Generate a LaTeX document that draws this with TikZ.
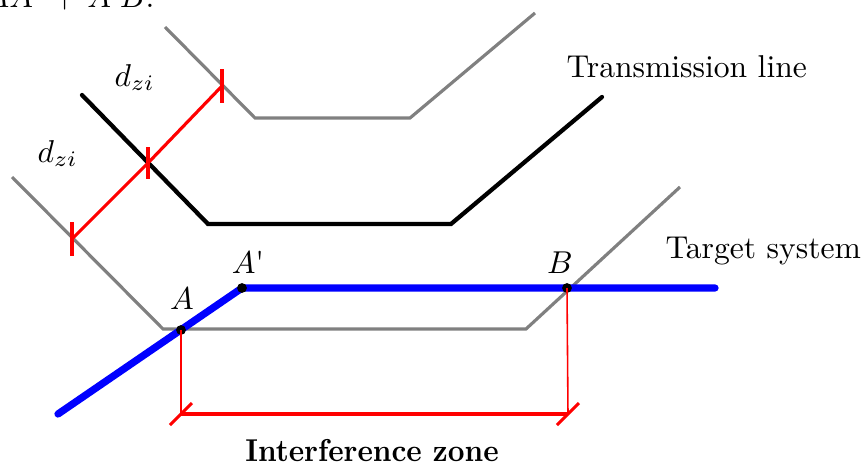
\documentclass[tikz,border=0pt]{standalone}
\usepackage{graphicx}
\begin{document}
\begin{tikzpicture}[x=0.3164pt,y=-0.3164pt,
  grayline/.style={draw=gray,line width=1pt},
  tline/.style={draw=black,line width=1.35pt,line cap=round},
  target/.style={draw=blue,line width=2.3pt,line cap=round},
  dimline/.style={draw=red,line width=1pt},
  thinred/.style={draw=red,line width=0.5pt},
  tick/.style={draw=red,line width=1pt},
  dot/.style={circle,fill=black,inner sep=0pt,minimum size=3.1pt},
  lbl/.style={anchor=base,inner sep=0pt}]
\useasboundingbox (0,0) rectangle (865,465);
% cut-off text at the top
\node[anchor=base west,inner sep=0pt] (eq) at (-15,7) {$AA$\textquotesingle\ + $A$\textquotesingle$B$.};
% upper gray offset line
\draw[grayline] (165,27) -- (255,118) -- (410,118) -- (535,13);
% transmission line
\draw[tline] (82,95) -- (208,224) -- (451,224) -- (602,97);
% lower gray offset line
\draw[grayline] (12,177) -- (163,329) -- (526,329) -- (680,187);
% target system
\coordinate (S) at (58,414);
\coordinate (E) at (715,288);
\coordinate (Apc) at (242,288);
\draw[target] (S) -- (Apc) -- (E);
\node[dot] (A) at (181,330) {};
\node[dot] (Ap) at (Apc) {};
\node[dot] (B) at (567,288) {};
% d_zi dimension
\coordinate (d1) at (72,239);
\coordinate (d2) at (148,163);
\coordinate (d3) at (222,86);
\draw[dimline] (d1) -- (d2) -- (d3);
\draw[tick] (d1) ++(0,-17) -- ++(0,34);
\draw[tick] (d2) ++(0,-16) -- ++(0,32);
\draw[tick] (d3) ++(0,-17) -- ++(0,34);
\node[anchor=base west,inner sep=0pt] (dz1) at (114,86) {$d_{zi}$};
\node[anchor=base west,inner sep=0pt] (dz2) at (37,162) {$d_{zi}$};
% interference zone dimension
\coordinate (iA) at (181,414);
\coordinate (iB) at (568,414);
\draw[thinred] (A.center) -- (iA);
\draw[thinred] (B.center) -- (iB);
\draw[dimline] (iA) -- (iB);
\draw[tick] (iA) ++(-11,11) -- ++(22,-22);
\draw[tick] (iB) ++(-11,11) -- ++(22,-22);
% labels
\node[lbl] (lA) at (182,309) {$A$};
\node[lbl] (lAp) at (248,273) {$A$\textquotesingle};
\node[lbl] (lB) at (560,273) {$B$};
\node[anchor=base west,inner sep=0pt] (tl) at (566,77) {Transmission line};
\node[anchor=base west,inner sep=0pt] (ts) at (665,258) {Target system};
\node[lbl] (iz) at (372,461) {\scalebox{0.923}[1]{\bfseries Interference zone}};
\end{tikzpicture}
\end{document}
